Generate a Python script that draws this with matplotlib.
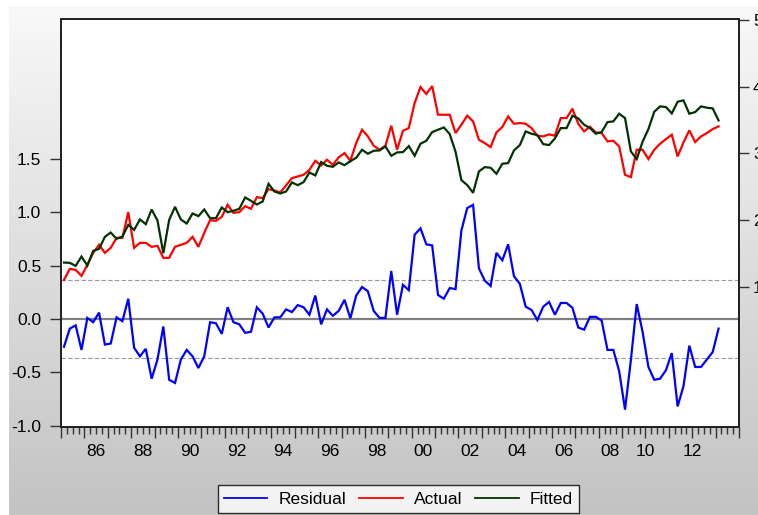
import numpy as np
import matplotlib
matplotlib.use("Agg")
import matplotlib.pyplot as plt
from matplotlib.transforms import blended_transform_factory

plt.rcParams["font.family"] = ["Liberation Sans", "DejaVu Sans"]

# Quarterly sample 1985Q1 - 2013Q1
start_year = 1985
actual = [
    1.105, 1.27, 1.255, 1.165, 1.33, 1.51, 1.63, 1.51, 1.585, 1.735,
    1.735, 2.12, 1.585, 1.66, 1.66, 1.60, 1.615, 1.435, 1.435, 1.60,
    1.63, 1.66, 1.75, 1.60, 1.81, 2.00, 1.99, 2.05, 2.23, 2.11,
    2.12, 2.21, 2.17, 2.345, 2.33, 2.465, 2.445, 2.415, 2.52, 2.63,
    2.655, 2.68, 2.755, 2.89, 2.82, 2.905, 2.83, 2.94, 3.005, 2.89,
    3.155, 3.355, 3.255, 3.115, 3.055, 3.115, 3.415, 3.055, 3.34, 3.38,
    3.755, 3.995, 3.89, 4.01, 3.58, 3.58, 3.58, 3.305, 3.43, 3.565,
    3.48, 3.205, 3.155, 3.095, 3.315, 3.395, 3.555, 3.445, 3.455, 3.445,
    3.38, 3.265, 3.255, 3.285, 3.265, 3.53, 3.53, 3.67, 3.445, 3.33,
    3.40, 3.315, 3.305, 3.18, 3.19, 3.105, 2.68, 2.645, 3.055, 3.055,
    2.915, 3.055, 3.145, 3.215, 3.28, 2.955, 3.165, 3.345, 3.17, 3.255,
    3.305, 3.365, 3.405,
]
fitted = [
    1.365, 1.36, 1.315, 1.455, 1.32, 1.54, 1.57, 1.75, 1.815, 1.72,
    1.755, 1.93, 1.855, 2.01, 1.94, 2.16, 1.995, 1.505, 2.005, 2.20,
    2.01, 1.95, 2.10, 2.06, 2.16, 2.03, 2.03, 2.19, 2.12, 2.14,
    2.17, 2.34, 2.29, 2.235, 2.28, 2.545, 2.43, 2.40, 2.43, 2.565,
    2.525, 2.57, 2.715, 2.67, 2.87, 2.815, 2.80, 2.865, 2.825, 2.884,
    2.935, 3.055, 2.995, 3.04, 3.045, 3.105, 2.965, 3.015, 3.02, 3.11,
    2.965, 3.145, 3.19, 3.32, 3.355, 3.39, 3.29, 3.025, 2.60, 2.525,
    2.41, 2.73, 2.795, 2.785, 2.695, 2.845, 2.855, 3.045, 3.125, 3.33,
    3.295, 3.275, 3.14, 3.125, 3.225, 3.38, 3.38, 3.565, 3.525, 3.43,
    3.38, 3.295, 3.32, 3.47, 3.48, 3.595, 3.53, 3.03, 2.915, 3.175,
    3.365, 3.625, 3.705, 3.695, 3.60, 3.775, 3.795, 3.595, 3.62, 3.705,
    3.685, 3.675, 3.495,
]
residual = [
    -0.26, -0.09, -0.06, -0.29, 0.01, -0.03, 0.06, -0.24, -0.23, 0.015,
    -0.02, 0.19, -0.27, -0.35, -0.28, -0.56, -0.38, -0.07, -0.57, -0.60,
    -0.38, -0.29, -0.35, -0.46, -0.35, -0.03, -0.04, -0.14, 0.11, -0.03,
    -0.05, -0.13, -0.12, 0.11, 0.05, -0.08, 0.015, 0.015, 0.09, 0.065,
    0.13, 0.11, 0.04, 0.22, -0.05, 0.09, 0.03, 0.075, 0.18, 0.006,
    0.22, 0.30, 0.26, 0.075, 0.01, 0.01, 0.45, 0.04, 0.32, 0.27,
    0.79, 0.85, 0.70, 0.69, 0.225, 0.19, 0.29, 0.28, 0.83, 1.04,
    1.07, 0.475, 0.36, 0.31, 0.62, 0.55, 0.70, 0.40, 0.33, 0.115,
    0.085, -0.01, 0.115, 0.16, 0.04, 0.15, 0.15, 0.105, -0.08, -0.10,
    0.02, 0.02, -0.015, -0.29, -0.29, -0.49, -0.85, -0.385, 0.14, -0.12,
    -0.45, -0.57, -0.56, -0.48, -0.32, -0.82, -0.63, -0.25, -0.45, -0.45,
    -0.38, -0.31, -0.09,
]
resid_band = 0.365  # +/- one standard error of the regression

year_labels = ["86", "88", "90", "92", "94", "96", "98", "00", "02", "04",
               "06", "08", "10", "12"]
label_years = [1986, 1988, 1990, 1992, 1994, 1996, 1998, 2000, 2002, 2004,
               2006, 2008, 2010, 2012]
left_ticks = [-1.0, -0.5, 0.0, 0.5, 1.0, 1.5]
right_ticks = [1, 2, 3, 4, 5]

c_resid = "#0000ff"
c_actual = "#ff0000"
c_fitted = "#003300"

W, H, DPI = 758, 515, 100
fig = plt.figure(figsize=(W / DPI, H / DPI), dpi=DPI, facecolor="white")

# grey gradient panel behind the chart
bg = fig.add_axes([9 / W, 0, 1 - 9 / W, (H - 6) / H], zorder=-10)
grad = np.linspace(0, 1, 256)[:, None]
top_c = np.array([0.975, 0.975, 0.975])
bot_c = np.array([0.765, 0.765, 0.765])
img = top_c[None, None, :] * (1 - grad[..., None]) + bot_c[None, None, :] * grad[..., None]
img = np.repeat(img, 2, axis=1)
bg.imshow(img, aspect="auto", extent=[0, 1, 0, 1], origin="upper")
bg.set_axis_off()

L, R, T, B = 60.7, 739.0, 19.3, 426.7
ax = fig.add_axes([L / W, (H - B) / H, (R - L) / W, (B - T) / H])
ax.set_facecolor("white")
ax2 = ax.twinx()

n = len(actual)
t = start_year + np.arange(n) / 4.0

ax.axhline(0.0, color="#808080", lw=1.6, zorder=1)
ax.axhline(resid_band, color="#9a9a9a", lw=0.8, ls=(0, (4, 2)), zorder=1)
ax.axhline(-resid_band, color="#9a9a9a", lw=0.8, ls=(0, (4, 2)), zorder=1)
ax.plot(t, residual, color=c_resid, lw=1.6, zorder=3, solid_joinstyle="miter")

ax2.plot(t, actual, color=c_actual, lw=1.6, zorder=3, solid_joinstyle="miter")
ax2.plot(t, fitted, color=c_fitted, lw=1.6, zorder=4, solid_joinstyle="miter")

x0 = start_year - 0.125
ax.set_xlim(start_year - 0.14, start_year + (n - 1) / 4.0 + 0.125)
ax.set_ylim(-1.01, 2.81)
ax2.set_ylim(-1.095, 5.01)

# quarter ticks, longer ticks at each year boundary
n_years = (n - 1) // 4 + 1
ax.set_xticks([x0 + k for k in range(n_years + 1)])
ax.set_xticks([x0 + 0.25 * k for k in range(4 * n_years + 1)], minor=True)
ax.set_xticklabels([])
ax.tick_params(axis="x", which="major", direction="out", length=8, width=1.0,
               color="#333333", top=False)
ax.tick_params(axis="x", which="minor", direction="out", length=5, width=1.0,
               color="#333333", top=False)

trans = blended_transform_factory(ax.transData, ax.transAxes)
for lab, yr in zip(year_labels, label_years):
    pos = yr + 0.375 if yr < 2010 else yr - 0.125
    ax.text(pos, -25 / (B - T), lab, transform=trans, ha="center",
            va="center", fontsize=12.5, color="black")

ax.set_yticks(left_ticks)
ax.set_yticklabels([f"{v:.1f}" for v in left_ticks])
ax.tick_params(axis="y", direction="out", length=8, width=1.0, pad=6,
               labelsize=12.5, color="#333333", right=False)
ax2.set_yticks(right_ticks)
ax2.set_yticklabels([str(v) for v in right_ticks])
ax2.tick_params(axis="y", direction="out", length=7, width=1.0, pad=3,
                labelsize=12.5, color="#333333", left=False)

for a in (ax, ax2):
    for s in a.spines.values():
        s.set_linewidth(1.3)
        s.set_color("#222222")

handles = [
    plt.Line2D([], [], color=c_resid, lw=1.3),
    plt.Line2D([], [], color=c_actual, lw=1.3),
    plt.Line2D([], [], color=c_fitted, lw=1.3),
]
leg = fig.legend(handles, ["Residual", "Actual", "Fitted"], loc="center",
                 bbox_to_anchor=(398.5 / W, (H - 499) / H), ncol=3,
                 fontsize=12.5, frameon=True, fancybox=False, edgecolor="black",
                 handlelength=2.5, handletextpad=0.65, columnspacing=0.75,
                 borderpad=0.35, borderaxespad=0)
leg.get_frame().set_linewidth(1.0)
leg.get_frame().set_facecolor("white")

fig.savefig("out.png", dpi=DPI, facecolor=fig.get_facecolor())
